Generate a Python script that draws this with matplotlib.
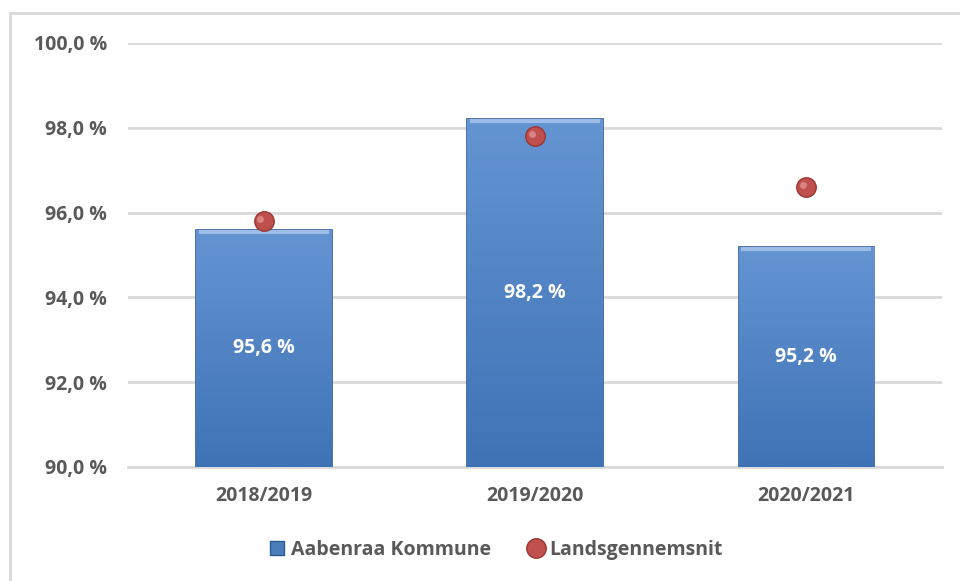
import matplotlib.pyplot as plt
from matplotlib.lines import Line2D
from matplotlib.colors import LinearSegmentedColormap
import numpy as np

# data
years = ["2018/2019", "2019/2020", "2020/2021"]
aabenraa = [95.6, 98.2, 95.2]
lands = [95.8, 97.8, 96.6]
yticks = [90, 92, 94, 96, 98, 100]

plt.rcParams['font.family'] = ['Open Sans', 'DejaVu Sans']
txt_col = "#595959"

fig = plt.figure(figsize=(9.6, 5.81), dpi=100)
W, H = 960, 581
ax = fig.add_axes([128 / W, 1 - 467 / H, (942 - 128) / W, (467 - 43) / H])

x = np.arange(len(years))
bars = ax.bar(x, [v - 90 for v in aabenraa], bottom=90, width=0.5,
              color="#4a7ebb", edgecolor="#2c5a93", linewidth=1.2, zorder=3)

# shading on the bars: lighter at the top, darker at the bottom
grad = np.linspace(0, 1, 100).reshape(-1, 1)
cmap = LinearSegmentedColormap.from_list("b", ["#6494d2", "#3f73b6"])
for b in bars:
    x0, y0 = b.get_x(), b.get_y()
    w, h = b.get_width(), b.get_height()
    im = ax.imshow(grad, extent=[x0, x0 + w, y0, y0 + h], aspect='auto',
                   cmap=cmap, zorder=3.5)
    im.set_clip_path(b)
    ax.plot([x0 + 0.01, x0 + w - 0.01], [y0 + h - 0.05] * 2, color="#9dbde6", lw=3,
            zorder=4, solid_capstyle="butt")

for xi, v in zip(x, aabenraa):
    ax.text(xi, (90 + v) / 2, f"{v:.1f} %".replace(".", ","), ha="center", va="center",
            color="white", fontsize=14, fontweight="bold", zorder=5)

ax.plot(x, lands, linestyle="none", marker="o", markersize=14,
        markerfacecolor="#c0504d", markeredgecolor="#9b3532", markeredgewidth=1, zorder=6)
ax.plot(x - 0.012, [v + 0.06 for v in lands], linestyle="none", marker="o", markersize=5,
        markerfacecolor="#e39a98", markeredgewidth=0, alpha=0.7, zorder=7)

ax.set_xlim(-0.5, 2.5)
ax.set_ylim(90, 100)
ax.set_yticks(yticks)
ax.set_yticklabels([f"{t:.1f} %".replace(".", ",") for t in yticks])
ax.set_xticks(x)
ax.set_xticklabels(years)
ax.tick_params(axis='both', length=0, colors=txt_col, labelsize=14)
for lab in ax.get_xticklabels() + ax.get_yticklabels():
    lab.set_fontweight("bold")
ax.tick_params(axis='y', pad=15)
ax.tick_params(axis='x', pad=14)
ax.grid(axis='y', color="#d9d9d9", linewidth=2, zorder=0)
for s in ["top", "right", "left"]:
    ax.spines[s].set_visible(False)
ax.spines["bottom"].set_color("#d9d9d9")
ax.spines["bottom"].set_linewidth(2)

handles = [Line2D([], [], linestyle="none", marker="s", markersize=10,
                  markerfacecolor="#4a7ebb", markeredgecolor="#2c5a93"),
           Line2D([], [], linestyle="none", marker="o", markersize=14,
                  markerfacecolor="#c0504d", markeredgecolor="#9b3532")]
leg = fig.legend(handles, ["Aabenraa Kommune", "Landsgennemsnit"], loc="center",
                 bbox_to_anchor=(495 / W, 1 - 550 / H), ncol=2, frameon=False,
                 fontsize=14, handletextpad=0.2, columnspacing=1.8, handlelength=1.0)
for t in leg.get_texts():
    t.set_color(txt_col)
    t.set_fontweight("bold")

# outer chart frame
fig.add_artist(Line2D([10 / W, 10 / W], [0, 1 - 13 / H], color="#d9d9d9", lw=2))
fig.add_artist(Line2D([10 / W, 1], [1 - 13 / H, 1 - 13 / H], color="#d9d9d9", lw=2))

fig.savefig("out.png", dpi=100)
